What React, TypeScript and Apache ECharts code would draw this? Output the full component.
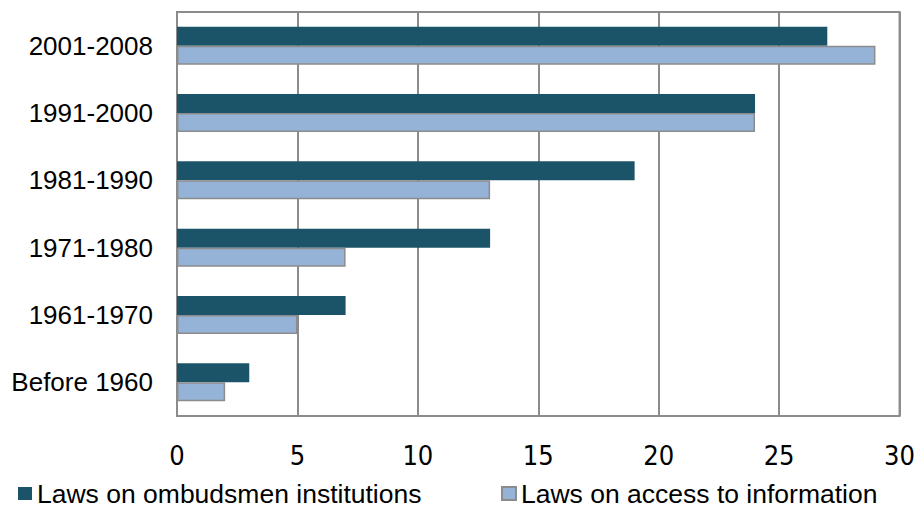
import React, { useEffect, useRef } from "react";
import * as echarts from "echarts";

const categories = ["Before 1960", "1961-1970", "1971-1980", "1981-1990", "1991-2000", "2001-2008"];
const ombudsmen = [3, 7, 13, 19, 24, 27];
const accessInfo = [2, 5, 7, 13, 24, 29];
const seriesNames = ["Laws on ombudsmen institutions", "Laws on access to information"];

export default function App() {
  const ref = useRef<HTMLDivElement>(null);
  useEffect(() => {
    document.body.style.margin = "0";
    const chart = echarts.init(ref.current!, null, { renderer: "svg" });
    const legendText = {
      fontFamily: "Liberation Sans",
      fontSize: 26.5,
      lineHeight: 24,
      color: "#000",
    };
    chart.setOption({
      animation: false,
      backgroundColor: "#fff",
      grid: {
        left: 177,
        right: 18,
        top: 12,
        bottom: 89,
        show: true,
        borderColor: "#8c8c8c",
        borderWidth: 2,
      },
      legend: [
        {
          data: [seriesNames[0]],
          left: 18,
          top: 480,
          padding: 0,
          icon: "rect",
          itemWidth: 14,
          itemHeight: 13,
          textStyle: legendText,
        },
        {
          data: [seriesNames[1]],
          left: 501,
          top: 480,
          padding: 0,
          icon: "rect",
          itemWidth: 14,
          itemHeight: 13,
          textStyle: legendText,
        },
      ],
      xAxis: {
        type: "value",
        min: 0,
        max: 30,
        interval: 5,
        axisLine: { show: false },
        axisTick: { show: false },
        splitLine: { lineStyle: { color: "#8c8c8c", width: 2 } },
        axisLabel: {
          fontFamily: "DejaVu Sans Condensed, DejaVu Sans",
          fontSize: 27,
          color: "#000",
          margin: 26,
        },
      },
      yAxis: {
        type: "category",
        data: categories,
        axisLine: { show: false },
        axisTick: { show: false },
        axisLabel: {
          fontFamily: "Liberation Sans",
          fontSize: 26,
          color: "#000",
          margin: 24,
        },
      },
      series: [
        {
          name: seriesNames[0],
          type: "bar",
          data: ombudsmen,
          barWidth: 19,
          barGap: "0%",
          itemStyle: { color: "#1b5468" },
        },
        {
          name: seriesNames[1],
          type: "bar",
          data: accessInfo,
          barWidth: 19,
          barGap: "0%",
          itemStyle: { color: "#95b3d7", borderColor: "#8c8c8c", borderWidth: 1.5 },
        },
      ],
    });
    return () => chart.dispose();
  }, []);
  return <div ref={ref} style={{ width: 918, height: 505 }} />;
}
